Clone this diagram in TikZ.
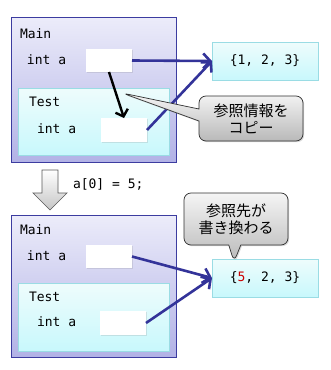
\documentclass[tikz,border=0pt]{standalone}
\usepackage{fontspec}
\setmonofont{DejaVu Sans Mono}
\newfontfamily\jpfont{Noto Sans CJK JP}
\usepackage{tikz}
\usetikzlibrary{arrows.meta,shapes.callouts,shadows}
\definecolor{refblue}{HTML}{333399}
\definecolor{mainedge}{HTML}{3C3CA0}
\definecolor{maintop}{HTML}{ECECFA}
\definecolor{mainbot}{HTML}{B2B2E6}
\definecolor{cyanedge}{HTML}{9ADCE4}
\definecolor{cyantop}{HTML}{EEFCFC}
\definecolor{cyanbot}{HTML}{C8F8FC}
\definecolor{noteedge}{HTML}{303030}
\definecolor{valred}{HTML}{CC0000}

\begin{document}
\begin{tikzpicture}[
    x=1pt, y=-1pt,
    every node/.style={inner sep=0pt, outer sep=0pt},
    frame/.style={rectangle, draw=mainedge, line width=0.8pt, top color=maintop, bottom color=mainbot,
        drop shadow={opacity=0.25, shadow xshift=1pt, shadow yshift=-1pt}},
    inner/.style={rectangle, draw=cyanedge, line width=0.6pt, top color=cyantop, bottom color=cyanbot,
        drop shadow={opacity=0.2, shadow xshift=1pt, shadow yshift=-1pt}},
    slot/.style={rectangle, fill=white, minimum width=46pt, minimum height=23pt,
        drop shadow={opacity=0.2, shadow xshift=0.8pt, shadow yshift=-0.8pt}},
    arraybox/.style={inner, minimum width=106pt, minimum height=38pt, font=\ttfamily\fontsize{13}{15}\selectfont},
    lbl/.style={anchor=west, font=\ttfamily\fontsize{13}{15}\selectfont},
    note/.style={rectangle callout, rounded corners=7pt, draw=noteedge, line width=0.7pt,
        top color=gray!8, bottom color=gray!55, callout pointer width=12pt, align=center,
        font=\jpfont\fontsize{15}{17}\selectfont, minimum width=104pt,
        drop shadow={opacity=0.3, shadow xshift=1.2pt, shadow yshift=-1.2pt}},
    refarrow/.style={draw=refblue, line width=2.6pt, -{Straight Barb[length=7pt, width=15pt, line width=2.6pt]}},
    copyarrow/.style={draw=black, line width=2.4pt, -{Straight Barb[length=6pt, width=13pt, line width=2.4pt]}}
]
\useasboundingbox (0,0) rectangle (330,370);

% before
\node[frame, minimum width=165pt, minimum height=145pt] (main1) at (93.5,89.5) {};
\node[inner, minimum width=151pt, minimum height=67pt] (test1) at (93.5,121.5) {};
\node[lbl] (mainname1) at (20,34) {Main};
\node[lbl] (mainvar1) at (27,60) {int a};
\node[lbl] (testname1) at (29,102) {Test};
\node[lbl] (testvar1) at (37,129) {int a};
\node[slot] (mainslot1) at (109,60.5) {};
\node[slot, minimum height=24pt] (testslot1) at (124,130) {};
\node[arraybox] (array1) at (265,61) {\{1, 2, 3\}};

\draw[refarrow] (mainslot1.east) -- (array1.west);
\draw[refarrow] (testslot1.east) -- (array1.west);
\draw[copyarrow] (mainslot1.south) -- (testslot1.north);

\coordinate (tip1) at (122,93);
\node[note, minimum height=45pt, callout absolute pointer={(tip1)}] (note1) at (251,118.5) {参照情報を\\コピー};

% step
\draw[draw=gray!70!black, line width=0.7pt, top color=white, bottom color=gray!45]
    (42,170) -- (58,170) -- (58,193) -- (67,193) -- (50,210) -- (33,193) -- (42,193) -- cycle;
\node[lbl] (stmt) at (73,184) {a[0] = 5;};

% after
\node[frame, minimum width=165pt, minimum height=142pt] (main2) at (93.5,286) {};
\node[inner, minimum width=151pt, minimum height=68pt] (test2) at (93.5,317) {};
\node[lbl] (mainname2) at (20,230) {Main};
\node[lbl] (mainvar2) at (27,256) {int a};
\node[lbl] (testname2) at (29,297) {Test};
\node[lbl] (testvar2) at (37,322) {int a};
\node[slot] (mainslot2) at (109,256.5) {};
\node[slot, minimum height=24pt] (testslot2) at (123,323) {};
\node[arraybox] (array2) at (265,278) {\{\textcolor{valred}{5}, 2, 3\}};

\draw[refarrow] (mainslot2.east) -- (array2.west);
\draw[refarrow] (testslot2.east) -- (array2.west);

\coordinate (tip2) at (234,262);
\node[note, minimum height=52pt, callout absolute pointer={(tip2)}] (note2) at (236,219) {参照先が\\書き換わる};
\end{tikzpicture}
\end{document}
